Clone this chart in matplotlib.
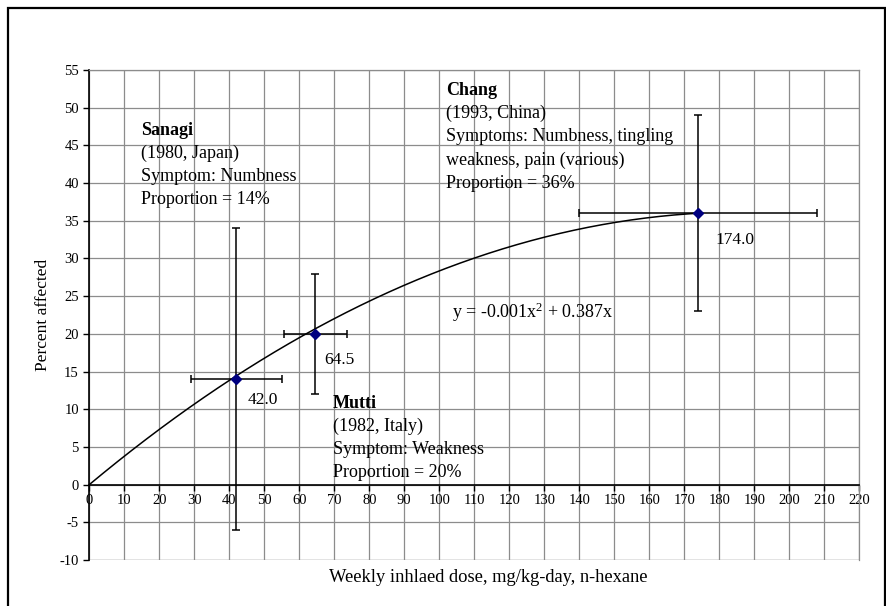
import numpy as np
import matplotlib
matplotlib.use("Agg")
import matplotlib.pyplot as plt
from matplotlib.patches import Rectangle

plt.rcParams["font.family"] = ["Liberation Serif", "DejaVu Serif"]
plt.rcParams["mathtext.fontset"] = "custom"
plt.rcParams["mathtext.rm"] = "Liberation Serif"
plt.rcParams["mathtext.default"] = "regular"
plt.rcParams["axes.unicode_minus"] = False

# Study data: dose (x), percent affected (y) and their uncertainty ranges
studies = ["Sanagi", "Mutti", "Chang"]
dose = [42.0, 64.5, 174.0]
percent = [14, 20, 36]
dose_err = [13, 9, 34]
percent_err = [20, 8, 13]

# Quadratic trend through the origin: y = a*x^2 + b*x
coef_a = -0.001035
coef_b = 0.387

study_notes = {
    "Sanagi": ["(1980, Japan)", "Symptom: Numbness", "Proportion = 14%"],
    "Mutti": ["(1982, Italy)", "Symptom: Weakness", "Proportion = 20%"],
    "Chang": ["(1993, China)", "Symptoms: Numbness, tingling",
              "weakness, pain (various)", "Proportion = 36%"],
}

x_ticks = list(range(0, 221, 10))
y_ticks = list(range(-10, 56, 5))

fig = plt.figure(figsize=(8.87, 6.06), dpi=100)
ax = fig.add_axes([89.3 / 887, 46 / 606, 770 / 887, 490 / 606])

ax.set_xlim(0, 220)
ax.set_ylim(-10, 55)
ax.set_xticks(x_ticks)
ax.set_yticks(y_ticks)
ax.grid(True, color="#8c8c8c", linewidth=0.9)
ax.set_axisbelow(True)

for side in ("top", "right"):
    ax.spines[side].set_color("#8c8c8c")
    ax.spines[side].set_linewidth(0.9)
ax.spines["left"].set_color("black")
ax.spines["left"].set_linewidth(1.2)
ax.spines["bottom"].set_position(("data", 0))
ax.spines["bottom"].set_color("black")
ax.spines["bottom"].set_linewidth(1.2)
ax.axhline(-10, color="#8c8c8c", linewidth=0.9, zorder=0.5)

ax.tick_params(axis="both", direction="out", length=4, width=1, labelsize=10.5,
               colors="black")
ax.tick_params(axis="x", pad=3)

# Trend curve
xs = np.linspace(0, max(dose), 300)
ax.plot(xs, coef_a * xs ** 2 + coef_b * xs, color="black", linewidth=1.1, zorder=3)

# Points with error bars
ax.errorbar(dose, percent, xerr=dose_err, yerr=percent_err, fmt="D",
            color="#000080", markersize=5, ecolor="black", elinewidth=1.1,
            capsize=3, capthick=1.1, zorder=4)

# Dose value labels next to each point
value_offsets = [(3.3, -2.8), (2.5, -3.5), (5.0, -3.6)]
for xv, yv, (dx, dy) in zip(dose, percent, value_offsets):
    ax.text(xv + dx, yv + dy, f"{xv:.1f}", fontsize=12.5, ha="left", va="center")

# Study annotation blocks
block_origin = {"Sanagi": (14.8, 47.0), "Mutti": (69.6, 10.8), "Chang": (102.0, 52.3)}
line_step = 3.08
for name in studies:
    x0, y0 = block_origin[name]
    ax.text(x0, y0, name, fontsize=13, fontweight="bold", ha="left", va="center")
    for i, line in enumerate(study_notes[name], start=1):
        ax.text(x0, y0 - i * line_step, line, fontsize=13, ha="left", va="center")

# Trend equation
ax.text(103.7, 22.8, f"y = {coef_a:.3f}x$^{{2}}$ + {coef_b:.3f}x", fontsize=13,
        ha="left", va="center")

fig.text(43 / 887, 1 - 315 / 606, "Percent affected", fontsize=12.5,
         rotation=90, ha="center", va="center")
fig.text(488 / 887, 1 - 578 / 606, "Weekly inhlaed dose, mg/kg-day, n-hexane",
         fontsize=13.3, ha="center", va="center")

# Outer chart frame
fig.patches.append(Rectangle((8 / 887, -0.05), 877 / 887, 1.05 - 8 / 606,
                             transform=fig.transFigure, fill=False,
                             edgecolor="black", linewidth=1.6))

fig.savefig("out.png", dpi=100)
